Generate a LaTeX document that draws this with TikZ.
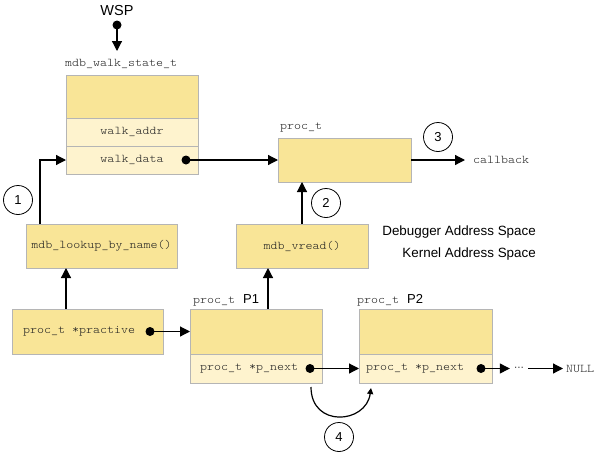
\documentclass[tikz,border=0pt]{standalone}
\usepackage{fontspec}
\setmainfont{Liberation Sans}
\newfontfamily\monof[FakeStretch=1.13]{Latin Modern Mono Light}
\usetikzlibrary{arrows.meta}
\definecolor{topfill}{HTML}{F9E597}
\definecolor{botfill}{HTML}{FEF3CE}
\definecolor{boxline}{HTML}{B5B5B5}
\definecolor{monotext}{HTML}{222222}
\tikzset{
  box/.style={draw=boxline, line width=0.9pt, inner sep=0pt, outer sep=0pt, anchor=north west, font=\monof\fontsize{11.8pt}{13pt}\selectfont, text=monotext},
  topbox/.style={box, fill=topfill},
  botbox/.style={box, fill=botfill},
  mono/.style={font=\monof\fontsize{11.8pt}{13pt}\selectfont, inner sep=0pt, text=monotext},
  sans/.style={font=\fontsize{13.4pt}{16pt}\selectfont, inner sep=0pt},
  conn/.style={line width=1.2pt, -{Triangle[length=10pt,width=10pt]}},
  dotmark/.style={circle, fill=black, inner sep=0pt, minimum size=9pt},
  numc/.style={circle, draw, line width=0.8pt, minimum size=29pt, inner sep=0pt, font=\fontsize{13pt}{15pt}\selectfont},
}
\begin{document}
\begin{tikzpicture}[x=1pt,y=-1pt]
\useasboundingbox (0,0) rectangle (594,453);
% WSP
\node[sans, font=\fontsize{14.5pt}{16pt}\selectfont] (wsp) at (117,11) {WSP};
\node[dotmark] (wspdot) at (117,25) {};
\coordinate (wspend) at (117,51);
\draw[conn] (wspdot.center) -- (wspend);
% walk state
\node[mono, anchor=west] (wslabel) at (65,64) {mdb\_walk\_state\_t};
\node[topbox, minimum width=132pt, minimum height=43pt] (wstop) at (66,75) {};
\node[botbox, minimum width=132pt, minimum height=28pt] (wsaddr) at (66,118) {walk\_addr};
\node[botbox, minimum width=132pt, minimum height=28pt] (wsdata) at (66,146) {walk\_data};
\node[dotmark] (d1) at (186,160) {};
% proc_t
\node[mono, anchor=west] (proclabel) at (280,128) {proc\_t};
\node[topbox, minimum width=133pt, minimum height=44pt] (proc) at (278,138) {};
\draw[conn] (d1.center) -- (proc.west);
\node[numc] (n3) at (438,137) {3};
\node[mono, inner xsep=8pt, anchor=west] (cb) at (465,160) {callback};
\draw[conn] (proc.east) -- (cb.west);
% vread
\node[topbox, minimum width=132pt, minimum height=44pt] (vread) at (236,224) {mdb\_vread()};
\draw[conn] (vread.north) -- (vread.north |- proc.south);
\node[numc] (n2) at (326,203) {2};
\node[sans, anchor=east] (dbg) at (536,232) {Debugger Address Space};
\node[sans, anchor=east] (krn) at (536,254) {Kernel Address Space};
% lookup
\node[topbox, minimum width=151pt, minimum height=44pt] (lookup) at (26,224) {mdb\_lookup\_by\_name()};
\coordinate (a1) at (40,224);
\draw[conn] (a1) |- (wsdata.west);
\node[numc] (n1) at (18,200) {1};
% practive
\node[topbox, minimum width=151pt, minimum height=45pt] (practive) at (12,309) {};
\node[mono, anchor=west] (practxt) at (23,331.5) {proc\_t *practive};
\node[dotmark] (d2) at (150,331.5) {};
\coordinate (a2) at (66,309);
\draw[conn] (a2) -- (a2 |- lookup.south);
% P1
\node[anchor=west, inner sep=0pt] (p1label) at (193,300) {{\monof\fontsize{11.8pt}{13pt}\selectfont\color{monotext}proc\_t }\hspace{1pt}{\fontsize{13pt}{15pt}\selectfont P1}};
\node[topbox, minimum width=132pt, minimum height=45pt] (p1top) at (190,309) {};
\node[botbox, minimum width=132pt, minimum height=29pt] (p1bot) at (190,354) {};
\node[mono, anchor=west] (p1txt) at (200,368.5) {proc\_t *p\_next};
\node[dotmark] (d3) at (310,368.5) {};
\draw[conn] (d2.center) -- (p1top.west);
\coordinate (a3) at (268,309);
\draw[conn] (a3) -- (a3 |- vread.south);
% P2
\node[anchor=west, inner sep=0pt] (p2label) at (357,300) {{\monof\fontsize{11.8pt}{13pt}\selectfont\color{monotext}proc\_t }\hspace{1pt}{\fontsize{13pt}{15pt}\selectfont P2}};
\node[topbox, minimum width=133pt, minimum height=45pt] (p2top) at (359,309) {};
\node[botbox, minimum width=133pt, minimum height=29pt] (p2bot) at (359,354) {};
\node[mono, anchor=west] (p2txt) at (366,368.5) {proc\_t *p\_next};
\node[dotmark] (d4) at (481,368.5) {};
\draw[conn] (d3.center) -- (p2bot.west);
\node[font=\fontsize{10pt}{12pt}\selectfont, inner xsep=4pt, inner ysep=0pt] (ell) at (519,368.5) {···};
\draw[conn] (d4.center) -- (ell.west);
\node[mono, anchor=west, inner xsep=3pt] (null) at (563,368.5) {NULL};
\draw[conn] (ell.east) -- (null.west);
% step 4
\coordinate (c4a) at (311,387);
\coordinate (c4b) at (371,388);
\draw[line width=1.2pt, -{Triangle[length=6pt,width=6pt]}] (c4a) .. controls (311,428) and (366,424) .. (c4b);
\node[numc] (n4) at (339,437) {4};
\end{tikzpicture}
\end{document}
